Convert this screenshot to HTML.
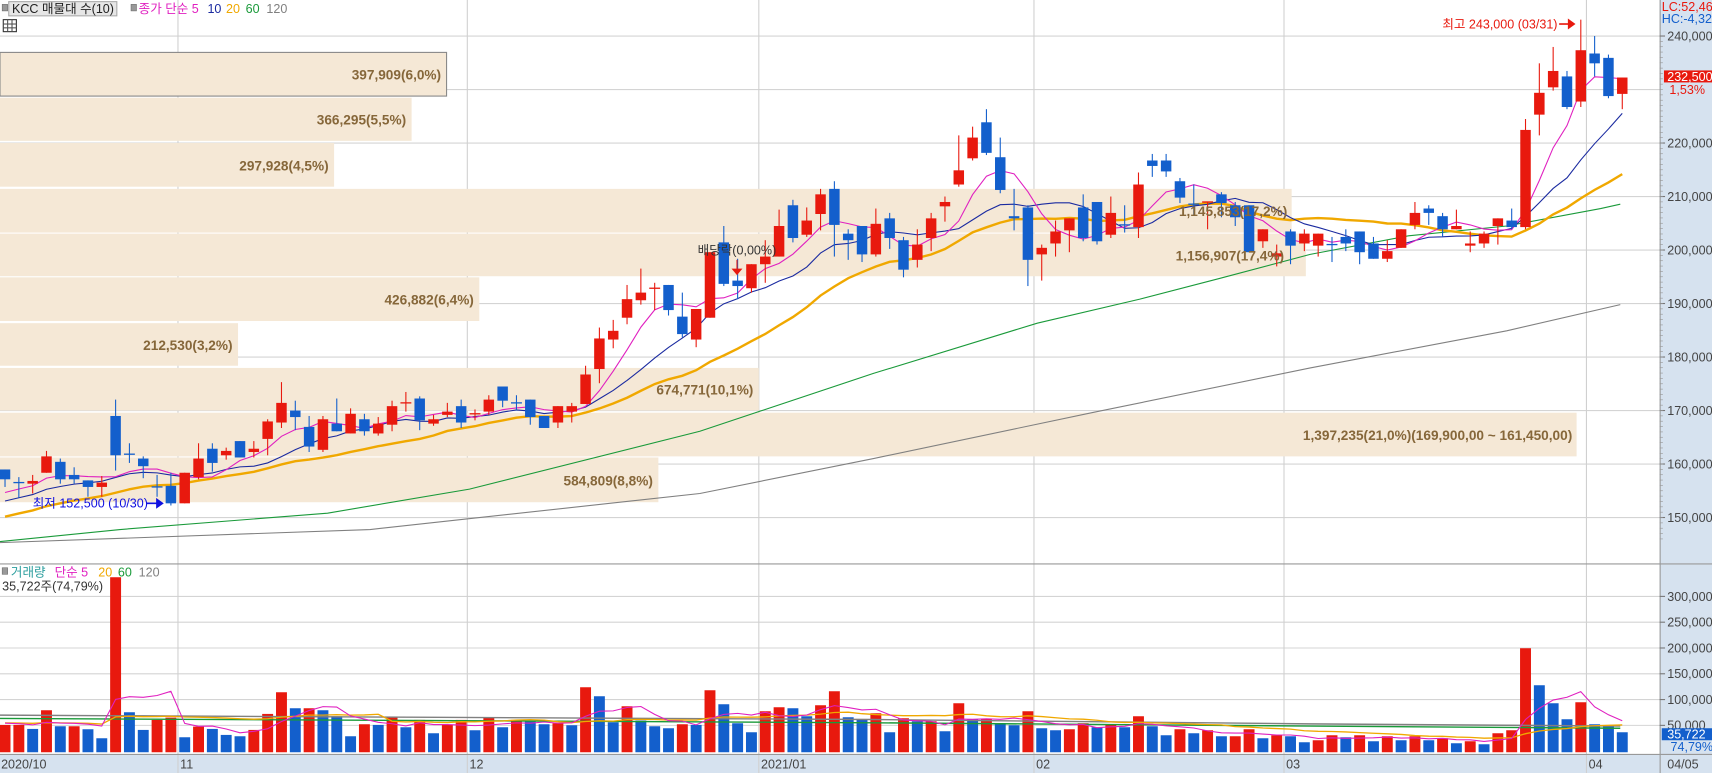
<!DOCTYPE html>
<html><head><meta charset="utf-8"><style>
html,body{margin:0;padding:0;background:#fff;overflow:hidden}
svg{display:block}
text{font-family:"Liberation Sans","Noto Sans CJK KR",sans-serif}
</style></head><body>
<svg id="s" width="1712" height="773" viewBox="0 0 1568 708" preserveAspectRatio="none" xmlns="http://www.w3.org/2000/svg"></svg>
<script>
const C=[
['b',430,439,430,446],['b',442,442,437,456],['r',440.5,443,435,452],['r',418,433,413,433],['b',423,439,420,443],
['b',435,439,428,443],['b',440,446,440,455],['r',442,446,436,455],['b',381,417,366,431],['b',416,416,406,424],
['b',420,427,418,438],['b',446,446,435,455],['b',445,461,433,463],['r',433,461,433,461],['r',420,437,406,439],
['b',411,424,406,432],['r',413,417,410,421],['b',404,419,404,419],['r',411,414,404,419],['r',386,402,384,417],
['r',369,387,350,392],['b',376,382,367,394],['b',391,409,381,414],['r',384,412,381,414],['b',388,395,365,395],
['r',379,397,374,397],['b',384,395,379,399],['r',388,397,382,399],['r',372,389,367,395],['r',369,369,359,377],
['b',365,385,363,394],['r',384,388,380,390],['r',377,380,369,382],['b',372,387,366,392],['r',379,379,375,385],
['r',366,377,362,380],['b',354,367,354,373],['b',369,369,362,376],['b',366,382,366,389],['b',381,392,381,392],
['r',372,387,372,392],['r',372,377,369,387],['r',343,370,335,370],['r',310,338,300,351],['r',303,311,293,319],
['r',274,291,261,297],['r',268,275,246,279],['r',264,264,259,284],['b',261,284,261,289],['b',290,306,268,309],
['r',283,311,283,318],['r',231,291,231,291],['b',222,260,207,262],['b',257,262,237,274],['r',242,264,242,268],
['r',235,242,220,259],['r',207,235,192,235],['b',188,218,183,222],['r',202,215,190,217],['r',178,196,173,211],
['b',173,206,166,235],['b',214,220,210,238],['b',207,233,207,240],['r',205,233,191,235],['b',200,218,195,228],
['b',220,247,217,254],['r',224,238,210,245],['r',200,218,195,230],['r',185,189,180,203],['r',156,169,124,171],
['r',126,145,116,147],['b',112,140,100,142],['b',144,174,126,177],['b',198,200,173,211],['b',190,238,188,262],
['r',227,233,224,257],['r',212,223,202,235],['r',200,211,200,231],['b',190,218,178,221],['b',185,221,185,224],
['r',195,215,180,218],['b',206,206,188,213],['r',169,208,158,218],['b',147,152,141,162],['b',147,157,141,162],
['b',166,181,163,186],['b',187,187,169,197],['r',185,186,185,210],['b',178,186,176,199],['b',188,199,185,207],
['b',188,231,188,231],['r',210,221,210,227],['r',232,235,224,244],['b',212,225,210,242],['r',214,223,210,230],
['r',214,225,214,235],['b',224,224,217,240],['b',217,223,210,230],['b',212,231,212,242],['b',223,237,217,237],
['r',230,237,220,240],['r',210,227,210,227],['r',195,206,185,210],['b',191,195,188,206],['b',198,210,195,217],
['r',207,210,192,210],['r',223,225,212,231],['r',214,223,212,227],['r',200,207,200,224],['b',202,208,191,210],
['r',119,208,109,210],['r',85,105,58,124],['r',65,80,43,83],['b',70,98,65,100],['r',46,93,18,98],
['b',49,58,33,70],['b',53,88,50,90],['r',71,86,71,100]];
const V=[82,82,70,126,78,78,69,42,525,120,67,97,104,45,77,70,52,48,67,115,180,132,132,126,108,48,84,82,105,75,97,57,82,97,66,105,75,97,93,84,87,81,195,168,90,138,95,
78,72,84,82,186,144,87,60,123,135,132,108,141,183,105,99,117,60,102,93,93,63,147,99,99,87,81,123,72,66,69,87,75,84,75,108,78,51,69,57,66,48,48,69,42,51,48,
30,36,51,45,51,33,48,36,48,36,42,27,33,24,57,66,312,201,147,99,150,84,81,60];
const RED='#e8190e',BLUE='#135fcc';
let h='';
const X=i=>4.6+i*12.66;
h+='<rect x="1520" y="0" width="48" height="708" fill="#d6e2ef"/>';
h+='<rect x="0" y="691" width="1568" height="17" fill="#d6e2ef"/>';
[240,230,220,210,200,190,180,170,160,150].forEach(p=>{const y=33+(240-p)*4.9;h+=`<line x1="0" x2="1520" y1="${y}" y2="${y}" stroke="#d4d4d4"/>`;});
[300,250,200,150,100,50].forEach(v=>{const y=688-v*0.4725;h+=`<line x1="0" x2="1520" y1="${y}" y2="${y}" stroke="#d4d4d4"/>`;});
[163,428,695,947,1176,1453].forEach(x=>{h+=`<line x1="${x}" x2="${x}" y1="0" y2="708" stroke="#d0d0d0"/>`;});
const BC='#f5e8d6',TC='#86673a';
const bands=[[409,48,89,'397,909(6,0%)',404],[377,89.5,130,'366,295(5,5%)',372],[306,131,172,'297,928(4,5%)',301],
[1183,173,214,'1,145,853(17,2%)',1179],[1196,214,254,'1,156,907(17,4%)',1176],[439,254,295,'426,882(6,4%)',434],
[218,296,336,'212,530(3,2%)',213],[695,337,377,'674,771(10,1%)',690],[1444,378,419,'1,397,235(21,0%)(169,900,00 ~ 161,450,00)',1440],
[603,419,461,'584,809(8,8%)',598]];
bands.forEach((b,i)=>{h+=`<rect x="0" y="${b[1]}" width="${b[0]}" height="${b[2]-b[1]-1}" fill="${BC}" ${i==0?'stroke="#888" stroke-width="1"':''}/>`;});
h+='<polyline fill="none" stroke="#1a9a3a" stroke-width="1" points="0,496 110,485 300,470 430,448 641,395 800,342 950,296 1044,274 1117,255 1200,233 1290,216 1380,207 1466,191 1484,187"/>';
h+='<polyline fill="none" stroke="#808080" stroke-width="1" points="0,497 339,485 641,452 800,420 1000,378 1200,337 1380,303 1484,279"/>';
const cl=C.map(c=>c[0]=='r'?c[1]:c[2]);
const pad=[];for(let k=0;k<19;k++)pad.push(500-k*50/18);
const ser=pad.concat(cl);
function ma(arr,n,off){const pts=[];for(let i=off;i<arr.length;i++){let s=0,c=0;for(let j=Math.max(0,i-n+1);j<=i;j++){s+=arr[j];c++;}pts.push([X(i-off),s/c]);}return pts;}
const pl=(p,c,w)=>`<polyline fill="none" stroke="${c}" stroke-width="${w}" points="${p.map(q=>q[0].toFixed(1)+','+q[1].toFixed(1)).join(' ')}"/>`;
h+=pl(ma(ser,20,19),'#f0a800',2.2);
h+=pl(ma(ser,10,19),'#1a2aa0',1);
h+=pl(ma(ser,5,19),'#e020c0',1);
C.forEach((c,i)=>{const x=X(i),col=c[0]=='r'?RED:BLUE;const bh=Math.max(1,c[2]-c[1]);
h+=`<line x1="${x}" x2="${x}" y1="${c[3]}" y2="${c[4]}" stroke="${col}" stroke-width="1"/>`;
if(c[2]-c[1]<1.5)h+=`<line x1="${x-5}" x2="${x+5}" y1="${c[1]}" y2="${c[1]}" stroke="${col}" stroke-width="1.2"/>`;
else h+=`<rect x="${x-4.8}" y="${c[1]}" width="9.6" height="${bh}" fill="${col}"/>`;});
bands.forEach(b=>{h+=`<text x="${b[4]}" y="${(b[1]+b[2])/2+4.5}" text-anchor="end" font-size="12.5" font-weight="bold" fill="${TC}">${b[3]}</text>`;});
const vh=V.map(v=>v/3.275);
V.forEach((v,i)=>{const x=X(i),col=(i==0||v>=V[i-1])?RED:BLUE;h+=`<rect x="${x-5}" y="${689-vh[i]}" width="10" height="${vh[i]}" fill="${col}"/>`;});
const vy=V.map(v=>689-v/3.275);const vpad=[];for(let k=0;k<19;k++)vpad.push(662);
const vs=vpad.concat(vy);
h+='<polyline fill="none" stroke="#1a9a3a" stroke-width="1.3" points="0,658 400,660 800,662 1200,665 1484,667"/>';
h+='<polyline fill="none" stroke="#808080" stroke-width="1.3" points="0,655 400,657 800,659 1200,663 1484,665"/>';
h+=pl(ma(vs,20,19),'#f0a800',1.2);
h+=pl(ma(vs,5,19),'#e020c0',1);
h+='<line x1="0" x2="1568" y1="516.5" y2="516.5" stroke="#999" stroke-width="1"/>';
h+='<line x1="1520.5" x2="1520.5" y1="0" y2="708" stroke="#999"/>';
h+='<line x1="0" x2="1568" y1="691" y2="691" stroke="#999"/>';
[240,220,210,200,190,180,170,160,150].forEach(p=>{const y=33+(240-p)*4.9;h+=`<line x1="1520" x2="1525" y1="${y}" y2="${y}" stroke="#777"/><text x="1527" y="${y+4}" font-size="11.5" fill="#444">${p},000</text>`;});
for(let p=239;p>=146;p--){const y=33+(240-p)*4.9;h+=`<line x1="1520" x2="1523" y1="${y}" y2="${y}" stroke="#999" stroke-width="0.6"/>`;}
[300,250,200,150,100,50].forEach(v=>{const y=688-v*0.4725;h+=`<line x1="1520" x2="1525" y1="${y}" y2="${y}" stroke="#777"/><text x="1527" y="${y+4}" font-size="11.5" fill="#444">${v},000</text>`;});
h+='<text x="1522" y="10" font-size="11.5" fill="#e8190e">LC:52,46</text><text x="1522" y="21" font-size="11.5" fill="#135fcc">HC:-4,32</text>';
h+='<rect x="1524" y="64.5" width="44" height="11" fill="#e8190e"/><text x="1527" y="74" font-size="11.5" fill="#fff">232,500</text><text x="1529" y="86" font-size="11.5" fill="#e8190e">1,53%</text>';
h+='<rect x="1522" y="667" width="46" height="11" fill="#135fcc"/><text x="1527" y="676.5" font-size="11.5" fill="#fff">35,722</text><text x="1530" y="688" font-size="11.5" fill="#135fcc">74,79%</text>';
[['2020/10',1],['11',165],['12',430],['2021/01',697],['02',949],['03',1178],['04',1455],['04/05',1527]].forEach(d=>{h+=`<text x="${d[1]}" y="704" font-size="11.5" fill="#444">${d[0]}</text>`;});
h+='<rect x="2" y="4" width="5" height="6" fill="#999" stroke="#666" stroke-width="0.5"/>';
h+='<rect x="8" y="1.5" width="99" height="13" fill="#e6e6e6" stroke="#aaa"/><text x="11" y="12" font-size="11.5" fill="#222">KCC 매물대 수(10)</text>';
h+='<rect x="120" y="4" width="5" height="6" fill="#999" stroke="#666" stroke-width="0.5"/>';
h+='<text y="12" font-size="11.5"><tspan x="127" fill="#e020c0">종가 단순 5</tspan><tspan x="190" fill="#1a2aa0">10</tspan><tspan x="207" fill="#f0a800">20</tspan><tspan x="225" fill="#1a9a3a">60</tspan><tspan x="244" fill="#808080">120</tspan></text>';
h+='<rect x="3" y="18" width="12" height="11" fill="#fff" stroke="#333"/><line x1="3" x2="15" y1="22" y2="22" stroke="#555"/><line x1="3" x2="15" y1="25.5" y2="25.5" stroke="#555"/><line x1="7" x2="7" y1="18" y2="29" stroke="#555"/><line x1="11" x2="11" y1="18" y2="29" stroke="#555"/>';
h+='<rect x="2" y="520" width="5" height="6" fill="#999" stroke="#666" stroke-width="0.5"/>';
h+='<text y="528" font-size="11.5"><tspan x="10" fill="#2a9d9d">거래량</tspan><tspan x="50" fill="#e020c0">단순 5</tspan><tspan x="90" fill="#f0a800">20</tspan><tspan x="108" fill="#1a9a3a">60</tspan><tspan x="127" fill="#808080">120</tspan></text>';
h+='<text x="2" y="541" font-size="11.5" fill="#333">35,722주(74,79%)</text>';
h+='<text x="1321" y="26" font-size="11.5" fill="#e8190e">최고 243,000 (03/31)</text><line x1="1428" x2="1440" y1="22" y2="22" stroke="#e8190e" stroke-width="1.5"/><polygon points="1436,17 1443,22 1436,27" fill="#e8190e"/>';
h+='<text x="30" y="465" font-size="11.5" fill="#1010e0">최저 152,500 (10/30)</text><line x1="134" x2="147" y1="461" y2="461" stroke="#1010e0" stroke-width="1.5"/><polygon points="143,456 150,461 143,466" fill="#1010e0"/>';
h+='<text x="639" y="233" font-size="11.5" fill="#333">배당락(0,00%)</text><polygon points="670,246 680,246 675,252" fill="#e8190e"/><line x1="675" x2="675" y1="238" y2="247" stroke="#e8190e"/>';
document.getElementById('s').innerHTML=h;
</script>
</body></html>
